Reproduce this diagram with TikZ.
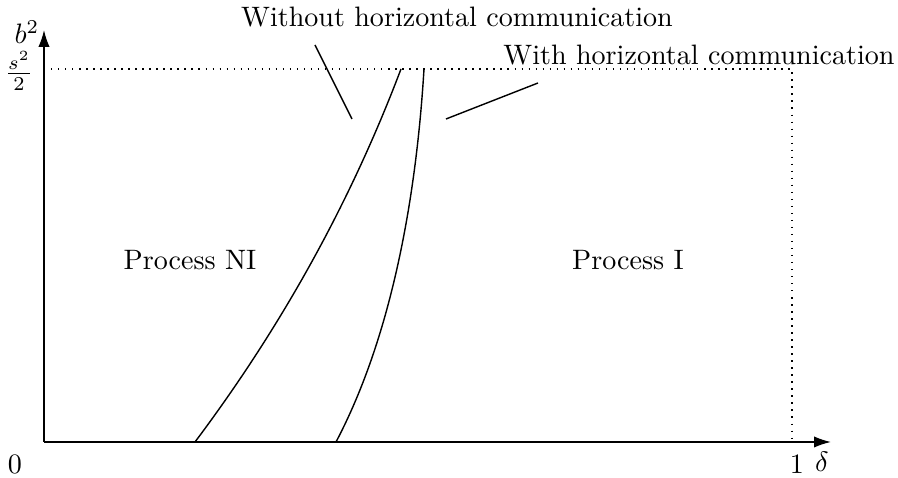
\documentclass[tikz,border=0pt]{standalone}
\usetikzlibrary{arrows.meta}
\begin{document}
\begin{tikzpicture}[x=0.356pt,y=-0.356pt,
  axis/.style={line width=0.55pt,-{Latex[length=6pt,width=4pt]}},
  guide/.style={dotted,line width=0.5pt},
  curve/.style={line width=0.5pt},
  pointer/.style={line width=0.5pt},
  lbl/.style={inner sep=0pt,font=\normalsize}]
\useasboundingbox (0,0) rectangle (898,478);
\coordinate (O) at (44,442);
\coordinate (xend) at (831,442);
\coordinate (yend) at (44,30);
\coordinate (ytop) at (44,69);
\coordinate (corner) at (792,69);
\coordinate (xone) at (792,442);
\draw[guide] (ytop) -- (corner) -- (xone);
\draw[axis] (O) -- (xend);
\draw[axis] (O) -- (yend);
\node[lbl] (zero) at (15,464) {$0$};
\node[lbl] (one) at (797,464) {$1$};
\node[lbl] (delta) at (822,462) {$\delta$};
\node[lbl] (b2) at (27,32) {$b^2$};
\node[lbl] (s2) at (19,71) {$\frac{s^2}{2}$};
% curves
\coordinate (c1a) at (195,442);
\coordinate (c1b) at (401,69);
\coordinate (c2a) at (336,442);
\coordinate (c2b) at (424,69);
\draw[curve] (c1a) .. controls (288,318) and (354,193) .. (c1b);
\draw[curve] (c2a) .. controls (395,330) and (417,185) .. (c2b);
% labels
\node[lbl] (without) at (457,17) {Without horizontal communication};
\node[lbl] (with) at (699,55) {With horizontal communication};
\coordinate (p1a) at (315,45);
\coordinate (p1b) at (352,119);
\coordinate (p2a) at (538,83);
\coordinate (p2b) at (446,119);
\draw[pointer] (p1a) -- (p1b);
\draw[pointer] (p2a) -- (p2b);
\node[lbl] (ni) at (190,260) {Process NI};
\node[lbl] (pi) at (628,260) {Process I};
\end{tikzpicture}
\end{document}
